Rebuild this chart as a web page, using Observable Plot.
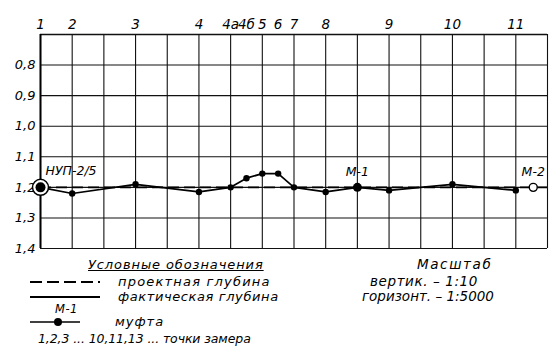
<!DOCTYPE html>
<html>
<head>
<meta charset="utf-8">
<script src="https://cdn.jsdelivr.net/npm/d3@7"></script>
<script src="https://cdn.jsdelivr.net/npm/@observablehq/plot@0.6"></script>
<style>
  body { margin: 0; background: white; }
  #wrap { position: relative; width: 559px; height: 359px; background: white; font-family: "DejaVu Sans", sans-serif; font-style: italic; color: #000; }
  #wrap svg.plot { display: block; }
  .lg { position: absolute; white-space: nowrap; font-size: 13px; line-height: 1; letter-spacing: 0.8px; }
  #legsvg { position: absolute; left: 0; top: 0; }
</style>
</head>
<body>
<div id="wrap"></div>
<script>
// ---- data ----
const gridX = d3.range(0, 17);                       // vertical grid (picket spacing)
const yTicks = [0.8, 0.9, 1.0, 1.1, 1.2, 1.3, 1.4];
const yTickLabels = ["0,8", "0,9", "1,0", "1,1", "1,2", "1,3", "1,4"];
const pointLabels = ["1", "2", "3", "4", "4а", "4б", "5", "6", "7", "8", "9", "10", "11"];
const pointPos    = [0, 1, 3, 5, 6, 6.5, 7, 7.5, 8, 9, 11, 13, 15];
const actualPos   = [0, 1, 3, 5, 6, 6.5, 7, 7.5, 8, 9, 10, 11, 13, 15];
const actualDepth = [1.2, 1.22, 1.19, 1.215, 1.2, 1.17, 1.155, 1.155, 1.2, 1.215, 1.2, 1.21, 1.19, 1.21];
const designDepth = 1.2;
const startName = "НУП-2/5";
const couplingNames = ["М-1", "М-2"];
const couplingPos = [10, 15.55];
const couplingDepth = [1.2, 1.2];

const actual = actualPos.map((x, i) => ({x, y: actualDepth[i]}));
const measured = actual.filter(d => d.x !== 0 && d.x !== couplingPos[0]);

const font = {fontFamily: "DejaVu Sans", fontStyle: "italic", fill: "black"};

const chart = Plot.plot({
  width: 559,
  height: 258,
  marginTop: 34,
  marginLeft: 40,
  marginRight: 12,
  marginBottom: 10,
  style: {background: "white", fontFamily: "DejaVu Sans", fontStyle: "italic"},
  x: {domain: [0, 16], axis: null},
  y: {domain: [0.7, 1.4], reverse: true, axis: null},
  marks: [
    Plot.ruleY(yTicks, {stroke: "#111", strokeWidth: 1.1}),
    Plot.ruleY([0.7], {stroke: "#111", strokeWidth: 1.4}),
    Plot.ruleX(gridX, {stroke: "#111", strokeWidth: 1.1}),
    Plot.ruleX([0], {stroke: "#000", strokeWidth: 2}),
    Plot.text(yTicks, {x: 0, y: d => d, text: (d, i) => yTickLabels[i], textAnchor: "end", dx: -5, fontSize: 13, ...font}),
    Plot.text(pointPos, {x: d => d, y: 0.7, text: (d, i) => pointLabels[i], dy: -10, fontSize: 13.5, ...font}),
    Plot.ruleY([designDepth], {x1: 0, x2: 16, stroke: "#000", strokeWidth: 1.6, strokeDasharray: "11,5"}),
    Plot.line(actual, {x: "x", y: "y", stroke: "#000", strokeWidth: 1.7}),
    Plot.dot(measured, {x: "x", y: "y", r: 3.2, fill: "#000", stroke: "none"}),
    // start point НУП
    Plot.dot([actual[0]], {x: "x", y: "y", r: 8, fill: "white", stroke: "#000", strokeWidth: 1.5}),
    Plot.dot([actual[0]], {x: "x", y: "y", r: 5, fill: "#000", stroke: "none"}),
    Plot.text([actual[0]], {x: "x", y: "y", text: () => startName, textAnchor: "start", dx: 5, dy: -16, fontSize: 12.5, ...font}),
    // couplings
    Plot.dot([0], {x: couplingPos[0], y: couplingDepth[0], r: 4.5, fill: "#000", stroke: "none"}),
    Plot.dot([0], {x: couplingPos[1], y: couplingDepth[1], r: 4, fill: "white", stroke: "#000", strokeWidth: 1.4}),
    Plot.text(couplingNames, {x: (d, i) => couplingPos[i], y: (d, i) => couplingDepth[i], text: d => d, dy: -15, fontSize: 12.5, ...font})
  ]
});
chart.classList.add("plot");
const wrap = document.getElementById("wrap");
wrap.appendChild(chart);

// ---- legend (below the plot) ----
const legendTitle = "Условные обозначения";
const legendItems = ["проектная глубина", "фактическая глубина", "муфта"];
const legendNote = "1,2,3 ... 10,11,13 ... точки замера";
const scaleLines = ["Масштаб", "вертик. – 1:10", "горизонт. – 1:5000"];

const ns = "http://www.w3.org/2000/svg";
const lsvg = document.createElementNS(ns, "svg");
lsvg.setAttribute("id", "legsvg");
lsvg.setAttribute("width", 559);
lsvg.setAttribute("height", 359);
lsvg.innerHTML = `
  <line x1="30" x2="100" y1="282" y2="282" stroke="#000" stroke-width="2" stroke-dasharray="12,5"/>
  <line x1="30" x2="100" y1="297" y2="297" stroke="#000" stroke-width="2"/>
  <line x1="30" x2="80" y1="322" y2="322" stroke="#000" stroke-width="1.6"/>
  <circle cx="58" cy="322" r="4" fill="#000"/>
`;
wrap.appendChild(lsvg);

function addText(txt, left, centerY, extra = {}) {
  const d = document.createElement("div");
  d.className = "lg";
  d.textContent = txt;
  d.style.left = left + "px";
  d.style.top = (centerY - 7) + "px";
  Object.assign(d.style, extra);
  wrap.appendChild(d);
  return d;
}
addText(legendTitle, 88, 265, {textDecoration: "underline", letterSpacing: "0.9px"});
addText(legendItems[0], 118, 282, {letterSpacing: "1.2px"});
addText(legendItems[1], 118, 297, {letterSpacing: "0.6px"});
addText("М-1", 55, 311, {fontSize: "11.5px", letterSpacing: "0.5px"});
addText(legendItems[2], 115, 322, {letterSpacing: "1px"});
addText(legendNote, 38, 340, {letterSpacing: "-0.1px", fontSize: "12.5px"});
addText(scaleLines[0], 417, 265, {letterSpacing: "1.6px", fontSize: "13.5px"});
addText(scaleLines[1], 370, 282, {letterSpacing: "0.6px", fontSize: "13.5px"});
addText(scaleLines[2], 362, 297, {letterSpacing: "0px", fontSize: "13.5px"});
</script>
</body>
</html>
